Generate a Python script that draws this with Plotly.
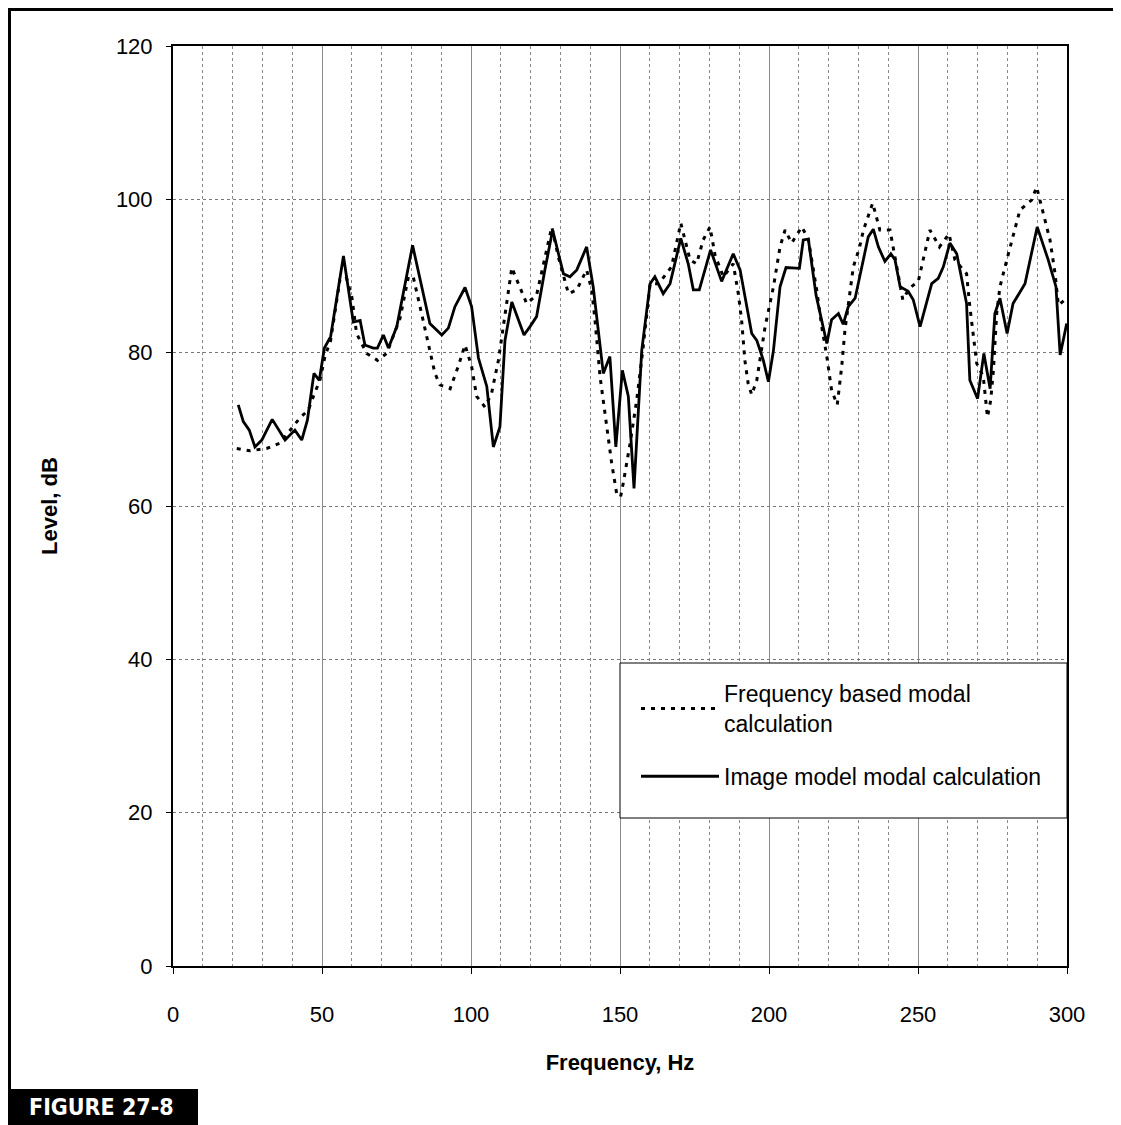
import plotly.graph_objects as go

# Image model modal calculation (solid line)
image_freq = [21.9, 23.6, 25.6, 27.5, 29.8, 33.3, 37.6, 40.9, 43.2, 45.1, 47.3, 49.1,
              50.8, 52.9, 57.2, 60.5, 62.8, 64.4, 67.2, 68.6, 70.6, 72.3, 75.1, 80.4,
              86.2, 90.2, 92.4, 94.6, 98.0, 100.2, 102.5, 105.3, 107.5, 109.7, 111.4,
              113.7, 115.9, 117.8, 119.8, 122.0, 124.8, 127.4, 131.0, 133.2, 135.5,
              138.8, 141.0, 144.4, 146.6, 148.6, 150.8, 152.8, 154.7, 157.3, 160.1,
              161.7, 164.5, 166.8, 170.4, 172.9, 174.6, 176.6, 180.4, 184.1, 188.0,
              190.3, 194.2, 195.9, 198.1, 199.8, 201.5, 203.7, 205.7, 208.0, 210.2,
              211.5, 213.2, 215.8, 217.7, 219.4, 221.0, 223.3, 224.9, 226.6, 228.9,
              231.1, 233.3, 235.0, 236.7, 238.9, 240.9, 242.3, 244.0, 246.7, 248.4,
              250.7, 254.6, 256.8, 258.5, 260.7, 263.0, 266.3, 267.4, 270.0, 272.1,
              274.2, 275.8, 277.5, 279.9, 281.9, 285.9, 290.0, 293.7, 296.3, 297.7,
              299.9]
image_level = [73.2, 71.0, 69.9, 67.7, 68.6, 71.3, 68.6, 69.9, 68.6, 71.2, 77.3, 76.4,
               80.6, 82.1, 92.6, 84.0, 84.2, 81.0, 80.6, 80.6, 82.3, 80.6, 83.4, 94.0,
               83.8, 82.3, 83.2, 86.0, 88.5, 86.0, 79.3, 75.6, 67.7, 70.3, 81.6,
               86.6, 84.3, 82.3, 83.4, 84.7, 90.8, 96.0, 90.3, 89.9, 90.8,
               93.8, 88.6, 77.3, 79.5, 67.7, 77.7, 74.3, 62.3, 80.3, 89.0,
               89.9, 87.7, 89.0, 94.9, 91.6, 88.2, 88.2, 93.4, 89.3, 92.9,
               90.8, 82.5, 81.6, 79.0, 76.2, 80.3, 88.6, 91.1, 91.0, 91.0,
               94.7, 94.8, 87.5, 84.3, 81.2, 84.3, 85.1, 83.7, 86.0, 87.1,
               91.2, 95.1, 96.1, 93.8, 91.9, 92.9, 92.1, 88.6, 88.0, 86.9,
               83.4, 89.0, 89.7, 91.2, 94.3, 92.9, 86.4, 76.4, 74.0, 79.9,
               75.3, 85.1, 87.1, 82.5, 86.4, 89.0, 96.4, 92.1, 88.6, 79.7,
               83.8]

# Frequency based modal calculation (dotted line)
freq_freq = [21.4, 25.8, 31.4, 35.9, 42.6, 45.4, 47.1, 49.3, 51.0, 52.9, 56.0, 58.1,
             60.0, 61.6, 65.0, 68.6, 71.7, 76.2, 79.0, 80.6, 82.9, 85.1, 87.9, 89.6,
             93.0, 95.7, 98.0, 100.2, 101.9, 104.7, 106.9, 109.2, 110.8, 113.7, 115.9,
             118.7, 122.0, 124.3, 127.1, 129.3, 132.7, 135.5, 138.8, 140.5, 141.6,
             143.3, 145.0, 147.2, 148.9, 150.2, 151.1, 153.4, 155.6, 157.8, 160.1,
             163.0, 167.3, 170.4, 173.5, 175.7, 177.9, 180.2, 181.9, 184.7, 188.0,
             189.7, 190.8, 191.9, 193.0, 194.2, 195.9, 198.7, 201.5, 203.7, 205.4,
             207.6, 211.0, 213.2, 216.0, 217.7, 219.4, 221.0, 222.9, 224.4, 225.5,
             226.6, 228.3, 230.3, 231.7, 234.8, 237.2, 240.6, 242.5, 244.9, 247.1,
             250.1, 251.2, 254.0, 257.2, 260.4, 262.4, 266.3, 267.4, 268.6, 269.7,
             271.9, 273.3, 274.4, 275.3, 276.4, 277.5, 279.8, 282.0, 284.2, 288.1,
             289.8, 291.5, 294.3, 296.0, 297.1, 299.3]
freq_level = [67.5, 67.2, 67.5, 68.2, 71.5, 72.5, 74.3, 76.4, 79.5, 81.6, 89.5, 89.9,
              87.3, 82.5, 79.9, 79.0, 79.9, 84.5, 89.9, 89.9, 86.0, 82.1, 77.3, 75.8,
              75.3, 78.2, 81.0, 78.2, 74.3, 72.9, 74.7, 79.0, 83.4, 91.1, 89.0,
              86.4, 87.5, 91.6, 96.4, 92.5, 87.7, 88.2, 90.8, 88.2, 84.3,
              76.9, 72.1, 65.6, 61.6, 61.2, 63.0, 68.2, 73.8, 80.8, 89.0,
              89.0, 91.2, 96.9, 92.1, 91.6, 94.7, 96.4, 92.7, 89.9, 91.6,
              87.7, 84.3, 79.0, 76.0, 74.5, 76.4, 83.4, 88.6, 93.8, 96.0,
              94.3, 96.4, 94.8, 88.2, 83.4, 79.5, 75.1, 73.2, 78.2, 83.0,
              86.0, 91.2, 93.6, 96.0, 99.5, 96.0, 96.0, 92.0, 86.9, 88.4,
              89.3, 91.2, 96.0, 93.8, 95.5, 92.1, 90.3, 86.0, 82.5, 78.6,
              76.9, 71.6, 73.8, 77.7, 85.1, 88.6, 92.1, 95.5, 98.6, 99.9,
              101.6, 99.0, 94.7, 90.3, 86.2, 86.9]

# page body margin pushes the figure 8px right and down
OFF = 8
W, H = 1121 - OFF, 1125 - OFF
PL, PR, PT, PB = 173, 1067, 46, 966


def px_x(px):
    return (px - PL) / (PR - PL)


def px_y(py):
    return (PB - py) / (PB - PT)


FONT = 'Liberation Sans, Arial, sans-serif'

fig = go.Figure()

fig.add_trace(go.Scatter(
    x=freq_freq, y=freq_level, mode='lines',
    name='Frequency based modal<br>calculation', legendgroup='freq',
    line=dict(color='black', width=3, dash='4px,6px'),
))
fig.add_trace(go.Scatter(
    x=image_freq, y=image_level, mode='lines',
    name='Image model modal calculation', legendgroup='image',
    line=dict(color='black', width=2.8),
))

shapes = [
    # legend box
    dict(type='rect', xref='paper', yref='paper',
         x0=px_x(620), x1=1.0, y0=px_y(818), y1=px_y(663),
         fillcolor='white', line=dict(color='black', width=1), layer='above'),
    # outer frame
    dict(type='line', xref='paper', yref='paper',
         x0=px_x(OFF), x1=px_x(1130), y0=px_y(OFF + 1.5), y1=px_y(OFF + 1.5),
         line=dict(color='black', width=3)),
    dict(type='line', xref='paper', yref='paper',
         x0=px_x(OFF + 1.5), x1=px_x(OFF + 1.5), y0=px_y(OFF), y1=px_y(1090),
         line=dict(color='black', width=3)),
    dict(type='rect', xref='paper', yref='paper',
         x0=px_x(OFF), x1=px_x(198), y0=px_y(1126), y1=px_y(1089),
         fillcolor='black', line=dict(width=0)),
]

fig.update_layout(
    width=W, height=H,
    margin=dict(l=PL - OFF, r=W - (PR - OFF), t=PT - OFF, b=H - (PB - OFF)),
    paper_bgcolor='white', plot_bgcolor='white',
    font=dict(family=FONT, size=22, color='black'),
    showlegend=True,
    legend=dict(
        x=px_x(636), y=px_y(672), xanchor='left', yanchor='top',
        bgcolor='rgba(0,0,0,0)', borderwidth=0,
        font=dict(size=23), itemwidth=78, tracegroupgap=20,
    ),
    shapes=shapes,
    annotations=[
        dict(text='<b>FIGURE 27-8</b>', xref='paper', yref='paper',
             x=px_x(101), y=px_y(1107), xanchor='center', yanchor='middle',
             showarrow=False,
             font=dict(family='DejaVu Sans Condensed, Liberation Sans Narrow, Arial Narrow, sans-serif',
                       size=23, color='white')),
    ],
)

fig.update_xaxes(
    range=[0, 300], dtick=50, tick0=0,
    showline=True, mirror=True, linecolor='black', linewidth=2,
    ticks='outside', ticklen=6, tickcolor='black', ticklabelstandoff=22,
    showgrid=True, gridcolor='#8a8a8a', gridwidth=1,
    minor=dict(dtick=10, showgrid=True, gridcolor='#8a8a8a', griddash='dot', gridwidth=1),
    zeroline=False,
    title=dict(text='<b>Frequency, Hz</b>', font=dict(size=22), standoff=28),
)
fig.update_yaxes(
    range=[0, 120], dtick=20, tick0=0,
    showline=True, mirror=True, linecolor='black', linewidth=2,
    ticks='outside', ticklen=5, tickcolor='black', ticklabelstandoff=9,
    showgrid=True, gridcolor='#777777', griddash='dot', gridwidth=1,
    zeroline=False,
    title=dict(text='<b>Level, dB</b>', font=dict(size=22), standoff=52),
)

fig.write_html("out.html")
